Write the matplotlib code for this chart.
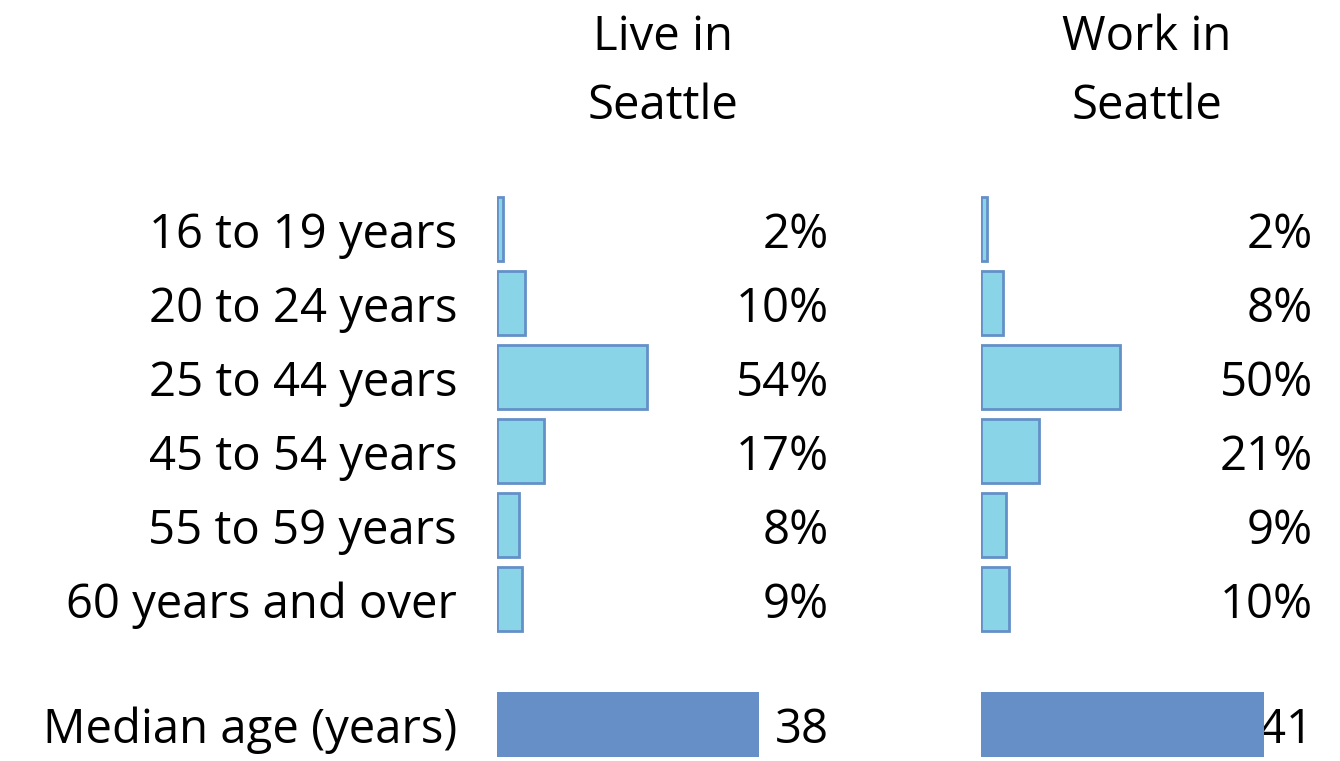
import matplotlib
matplotlib.use("Agg")
from matplotlib import pyplot as plt

plt.rcParams['font.family'] = ['Open Sans', 'DejaVu Sans']

categories = ["16 to 19 years", "20 to 24 years", "25 to 44 years",
              "45 to 54 years", "55 to 59 years", "60 years and over"]
live_pct = [2, 10, 54, 17, 8, 9]
work_pct = [2, 8, 50, 21, 9, 10]
median_label = "Median age (years)"
live_median = 38
work_median = 41
headers = [["Live in", "Seattle"], ["Work in", "Seattle"]]

W, H = 1340, 761
fig = plt.figure(figsize=(W / 100, H / 100), dpi=100)

fill = '#8AD4E8'
edge = '#6490C8'
med_col = '#658FC6'
fs = 34

rows = list(range(len(categories)))
med_pos = 6.70
txt_off = 0.08  # labels sit a touch lower than the bars

def column(x0, pct, median, header, show_labels):
    ax = fig.add_axes([x0 / W, 0, 332 / W, (761 - 190) / H])
    ax.barh(rows, pct, height=0.87, color=fill, edgecolor=edge, linewidth=2)
    ax.set_xlim(0, 332 / 2.78)
    ax.set_ylim(7.189, -0.527)
    tr = ax.get_yaxis_transform()
    for r, v in zip(rows, pct):
        ax.text(1.0, r + txt_off, f"{v}%", transform=tr,
                ha='right', va='center', fontsize=fs)
    ax.text(1.0, med_pos + txt_off, f"{median}", transform=tr,
            ha='right', va='center', fontsize=fs)
    # median uses its own scale
    ax2 = ax.twiny()
    ax2.barh([med_pos], [median], height=0.88, color=med_col)
    ax2.set_xlim(0, 332 / 6.9)
    for a in (ax, ax2):
        for s in a.spines.values():
            s.set_visible(False)
        a.set_xticks([])
    ax.set_yticks([])
    if show_labels:
        for r, lab in zip(rows + [med_pos], categories + [median_label]):
            ax.text(-40 / 332, r + txt_off, lab, transform=tr,
                    ha='right', va='center', fontsize=fs)
    for yf, line in zip([1.268, 1.147], header):
        ax.text(0.5, yf, line, transform=ax.transAxes,
                ha='center', va='center', fontsize=fs)
    return ax

column(497, live_pct, live_median, headers[0], True)
column(981, work_pct, work_median, headers[1], False)

fig.savefig("out.png", dpi=100)
